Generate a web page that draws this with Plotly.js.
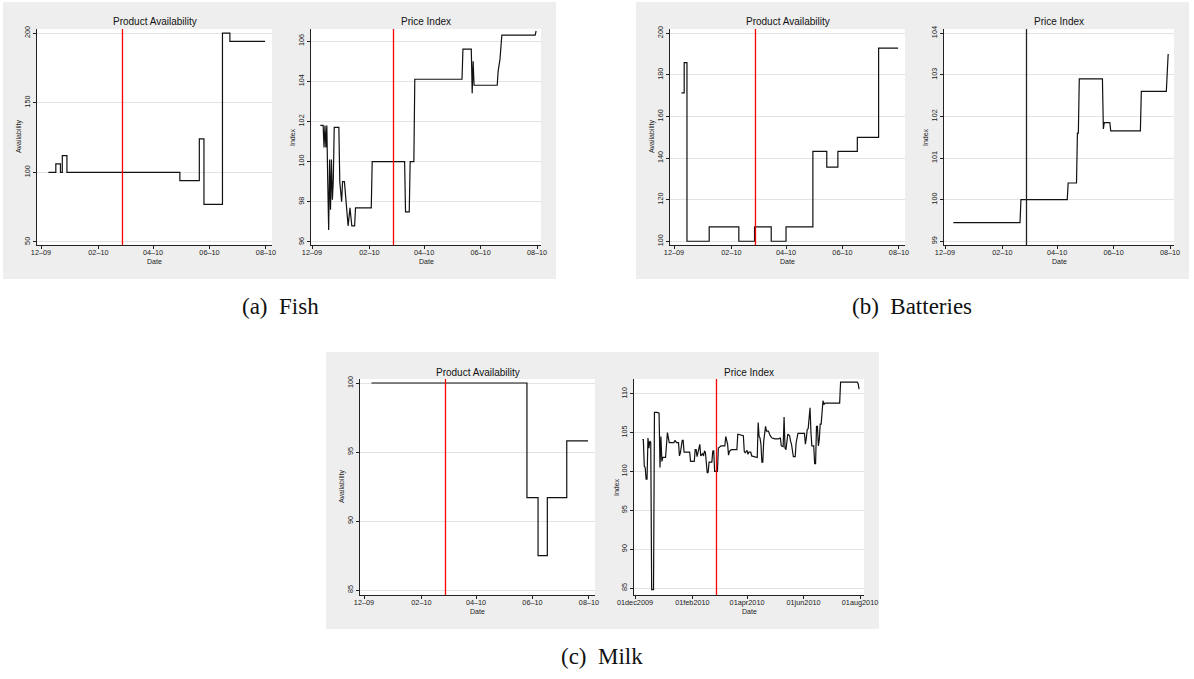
<!DOCTYPE html>
<html><head><meta charset="utf-8">
<script src="https://cdn.plot.ly/plotly-3.0.1.min.js"></script>
<style>html,body{margin:0;padding:0;background:#fff;}#chart{width:1194px;height:679px;}</style>
</head><body><div id="chart"></div>
<script>
const eventDate = '2010-02-27';

const captions = ['(a)\u00a0 Fish', '(b)\u00a0 Batteries', '(c)\u00a0 Milk'];
const availTitle = 'Product Availability';
const priceTitle = 'Price Index';

const dateTickVals = ['2009-12-01','2010-02-01','2010-04-01','2010-06-01','2010-08-01'];
const shortTickText = ['12–09','02–10','04–10','06–10','08–10'];
const longTickText = ['01dec2009','01feb2010','01apr2010','01jun2010','01aug2010'];

const fishAvailTicks = [50,100,150,200];
const fishPriceTicks = [96,98,100,102,104,106];
const battAvailTicks = [100,120,140,160,180,200];
const battPriceTicks = [99,100,101,102,103,104];
const milkAvailTicks = [85,90,95,100];
const milkPriceTicks = [85,90,95,100,105,110];

const fishAvailDates = ['2009-12-09','2009-12-17','2009-12-22','2009-12-24','2009-12-29','2010-04-30','2010-05-21','2010-05-26','2010-06-15','2010-06-23','2010-07-31'];
const fishAvailValues = [100,106,100,112,100,94,124,77,200,194,194];

const fishPriceDates = ['2009-12-10','2009-12-13','2009-12-14','2009-12-15','2009-12-16','2009-12-17','2009-12-18','2009-12-19','2009-12-20','2009-12-21','2009-12-22','2009-12-23','2009-12-24','2009-12-25','2009-12-30','2009-12-31','2010-01-02','2010-01-03','2010-01-05','2010-01-07','2010-01-09','2010-01-11','2010-01-13','2010-01-16','2010-01-17','2010-02-03','2010-02-04','2010-03-11','2010-03-12','2010-03-16','2010-03-17','2010-03-21','2010-03-22','2010-05-12','2010-05-13','2010-05-22','2010-05-23','2010-05-24','2010-05-25','2010-06-19','2010-06-20','2010-06-22','2010-06-24','2010-07-30','2010-07-31'];
const fishPriceValues = [101.8,101.8,100.7,101.8,100.7,101.8,99.0,96.6,100.1,97.6,100.1,98.1,99.1,101.7,101.7,99.0,98.0,99.0,99.0,97.7,96.8,97.7,96.8,96.8,97.7,97.7,100.0,100.0,97.5,97.5,100.0,100.0,104.1,104.1,105.6,105.6,103.4,105.0,103.8,103.8,104.5,105.1,106.3,106.3,106.5];

const battAvailDates = ['2009-12-09','2009-12-12','2009-12-15','2010-01-08','2010-02-09','2010-02-26','2010-03-16','2010-04-01','2010-04-30','2010-05-15','2010-05-27','2010-06-17','2010-07-10','2010-07-31'];
const battAvailValues = [171.3,185.8,100,106.9,100,106.9,100,106.9,143.2,135.6,143.2,149.9,192.8,192.8];

const battPriceDates = ['2009-12-10','2010-02-20','2010-02-21','2010-04-12','2010-04-13','2010-04-22','2010-04-23','2010-04-24','2010-04-25','2010-05-20','2010-05-21','2010-05-22','2010-05-28','2010-05-29','2010-06-30','2010-07-01','2010-07-28','2010-07-30'];
const battPriceValues = [99.45,99.45,100.0,100.0,100.4,100.4,101.6,101.6,102.9,102.9,101.7,101.85,101.85,101.65,101.65,102.6,102.6,103.5];

const milkAvailDates = ['2009-12-09','2010-05-26','2010-06-07','2010-06-17','2010-07-08','2010-07-31'];
const milkAvailValues = [100,91.7,87.5,91.7,95.8,95.8];

const milkPriceDates = ['2009-12-09','2009-12-10','2009-12-11','2009-12-12','2009-12-13','2009-12-14','2009-12-15','2009-12-16','2009-12-17','2009-12-18','2009-12-19','2009-12-21','2009-12-22','2009-12-25','2009-12-27','2009-12-28','2009-12-29','2009-12-30','2009-12-31','2010-01-03','2010-01-05','2010-01-07','2010-01-12','2010-01-13','2010-01-15','2010-01-17','2010-01-18','2010-01-19','2010-01-21','2010-01-22','2010-01-23','2010-01-29','2010-01-30','2010-02-03','2010-02-04','2010-02-05','2010-02-06','2010-02-08','2010-02-09','2010-02-10','2010-02-12','2010-02-13','2010-02-14','2010-02-15','2010-02-17','2010-02-18','2010-02-19','2010-02-22','2010-02-23','2010-02-24','2010-02-25','2010-02-28','2010-03-01','2010-03-04','2010-03-08','2010-03-09','2010-03-11','2010-03-12','2010-03-13','2010-03-15','2010-03-21','2010-03-22','2010-03-26','2010-03-28','2010-03-29','2010-03-30','2010-04-01','2010-04-02','2010-04-03','2010-04-05','2010-04-06','2010-04-10','2010-04-12','2010-04-13','2010-04-14','2010-04-15','2010-04-16','2010-04-17','2010-04-18','2010-04-19','2010-04-21','2010-04-22','2010-04-24','2010-04-26','2010-04-28','2010-05-01','2010-05-05','2010-05-07','2010-05-08','2010-05-10','2010-05-11','2010-05-12','2010-05-13','2010-05-15','2010-05-17','2010-05-18','2010-05-19','2010-05-21','2010-05-23','2010-05-24','2010-05-26','2010-06-02','2010-06-03','2010-06-04','2010-06-05','2010-06-06','2010-06-08','2010-06-09','2010-06-10','2010-06-12','2010-06-13','2010-06-14','2010-06-15','2010-06-16','2010-06-17','2010-06-18','2010-06-19','2010-06-20','2010-06-21','2010-06-22','2010-06-23','2010-06-24','2010-07-10','2010-07-11','2010-07-29','2010-07-30','2010-07-31'];
const milkPriceValues = [104.1,104.1,100.7,100.5,99.0,99.0,104.3,103.0,103.9,103.7,84.8,84.8,107.6,107.6,107.5,100.5,104.5,101.3,101.8,101.8,105.0,103.7,103.7,104.0,103.7,103.7,102.0,102.4,104.0,104.0,102.5,102.5,101.3,101.3,102.8,102.8,101.9,103.0,103.5,102.0,102.3,102.0,102.6,102.5,99.8,99.9,101.2,101.2,102.6,102.7,100.0,100.0,103.0,103.3,103.3,104.5,103.5,102.1,102.6,102.8,102.8,104.8,104.6,104.6,102.6,102.4,102.7,102.2,102.5,102.5,102.0,101.8,101.8,106.3,104.5,104.3,103.5,101.2,101.2,103.9,105.8,105.2,105.2,104.6,104.3,104.2,104.2,104.3,103.3,103.2,107.0,103.0,102.8,104.8,104.6,103.9,103.5,101.9,101.9,103.7,104.9,104.9,103.5,104.3,105.4,105.5,108.2,105.0,103.3,103.3,101.0,101.0,105.8,105.8,103.3,104.1,106.1,106.1,108.0,109.1,108.6,108.8,108.8,111.5,111.5,111.3,110.6];

// ---- layout geometry (pixels) ----
const W = 1194, H = 679;
const fx = p => p / W, fy = p => 1 - p / H;
const BOX_W = 553, BOX_H = 277;
const groups = [{L:3, T:2}, {L:636, T:2}, {L:326, T:352}];
const captionPos = [{x:280, y:307}, {x:912, y:307}, {x:602, y:656}];
const availRange = ['2009-11-26 16:00','2010-08-07 12:00'];
const priceRange = ['2009-11-29 22:00','2010-08-05 07:00'];

const panels = [
  {g:0, kind:'avail', x:fishAvailDates, y:fishAvailValues, yr:[47.8,202.9], yt:fishAvailTicks, tt:shortTickText, ev:'red', ytl:'Availability'},
  {g:0, kind:'price', x:fishPriceDates, y:fishPriceValues, yr:[95.85,106.6], yt:fishPriceTicks, tt:shortTickText, ev:'red', ytl:'Index'},
  {g:1, kind:'avail', x:battAvailDates, y:battAvailValues, yr:[98.2,202], yt:battAvailTicks, tt:shortTickText, ev:'red', ytl:'Availability'},
  {g:1, kind:'price', x:battPriceDates, y:battPriceValues, yr:[98.91,104.1], yt:battPriceTicks, tt:shortTickText, ev:'#222', ytl:'Index'},
  {g:2, kind:'avail', x:milkAvailDates, y:milkAvailValues, yr:[84.64,100.29], yt:milkAvailTicks, tt:shortTickText, ev:'red', ytl:'Availability'},
  {g:2, kind:'price', x:milkPriceDates, y:milkPriceValues, yr:[84.1,111.9], yt:milkPriceTicks, tt:longTickText, ev:'red', ytl:'Index'}
];

const FONT = 'Liberation Sans, Arial, Helvetica, sans-serif';
const traces = [];
const layout = {
  width: W, height: H,
  margin: {l:0, r:0, t:0, b:0},
  paper_bgcolor: '#ffffff',
  plot_bgcolor: 'rgba(0,0,0,0)',
  showlegend: false,
  shapes: [], annotations: []
};

groups.forEach((g, i) => {
  layout.shapes.push({type:'rect', xref:'paper', yref:'paper', layer:'below',
    x0: fx(g.L), x1: fx(g.L + BOX_W), y0: fy(g.T + BOX_H), y1: fy(g.T),
    fillcolor:'#eeeeee', line:{width:0}});
  layout.annotations.push({xref:'paper', yref:'paper', x: fx(captionPos[i].x), y: fy(captionPos[i].y),
    xanchor:'center', yanchor:'middle', showarrow:false, text: captions[i],
    font:{family:'Liberation Serif, Times New Roman, serif', size:23, color:'#111'}});
});

panels.forEach((p, k) => {
  const n = k + 1;
  const xa = 'xaxis' + (n > 1 ? n : ''), ya = 'yaxis' + (n > 1 ? n : '');
  const xr = 'x' + (n > 1 ? n : ''), yr = 'y' + (n > 1 ? n : '');
  const g = groups[p.g];
  const x0 = g.L + (p.kind === 'avail' ? 34 : 308);
  const x1 = g.L + (p.kind === 'avail' ? 269 : 538);
  const y0 = g.T + 27, y1 = g.T + 243;

  layout.shapes.push({type:'rect', xref:'paper', yref:'paper', layer:'below',
    x0: fx(x0), x1: fx(x1), y0: fy(y1), y1: fy(y0), fillcolor:'#ffffff', line:{width:0}});

  layout[xa] = {
    domain:[fx(x0), fx(x1)], anchor: yr, type:'date',
    range: p.kind === 'avail' ? availRange : priceRange,
    tickmode:'array', tickvals: dateTickVals, ticktext: p.tt,
    ticks:'outside', ticklen:3, tickwidth:1, tickcolor:'#222', ticklabelstandoff:-3,
    showline:true, linecolor:'#222', linewidth:1,
    showgrid:false, zeroline:false, fixedrange:true,
    tickfont:{family:FONT, size:7.3, color:'#222'}
  };
  layout[ya] = {
    domain:[fy(y1), fy(y0)], anchor: xr, range: p.yr,
    tickmode:'array', tickvals: p.yt, tickangle:-90,
    ticks:'outside', ticklen:3, tickwidth:1, tickcolor:'#222',
    showline:true, linecolor:'#222', linewidth:1,
    showgrid:true, gridcolor:'#e3e3e3', gridwidth:1, zeroline:false, fixedrange:true,
    tickfont:{family:FONT, size:7.3, color:'#222'}
  };

  traces.push({type:'scatter', mode:'lines', x:p.x, y:p.y, xaxis:xr, yaxis:yr,
    line:{color:'#111', width:1.2, shape: p.kind === 'avail' ? 'hv' : 'linear'}, hoverinfo:'skip'});

  layout.shapes.push({type:'line', xref:xr, yref: yr + ' domain', x0:eventDate, x1:eventDate, y0:0, y1:1,
    line:{color:p.ev, width:1.3}});

  const cx = (x0 + x1) / 2;
  layout.annotations.push({xref:'paper', yref:'paper', x:fx(cx), y:fy(g.T + 20), xanchor:'center', yanchor:'middle',
    showarrow:false, text: p.kind === 'avail' ? availTitle : priceTitle, font:{family:FONT, size:10, color:'#111'}});
  layout.annotations.push({xref:'paper', yref:'paper', x:fx(x0 - 18), y:fy((y0 + y1) / 2), xanchor:'center', yanchor:'middle',
    showarrow:false, textangle:-90, text: p.ytl, font:{family:FONT, size:7, color:'#222'}});
  layout.annotations.push({xref:'paper', yref:'paper', x:fx(cx), y:fy(g.T + 259), xanchor:'center', yanchor:'middle',
    showarrow:false, text:'Date', font:{family:FONT, size:7, color:'#222'}});
});

Plotly.newPlot('chart', traces, layout, {displayModeBar:false, staticPlot:true});
</script>
</body></html>
